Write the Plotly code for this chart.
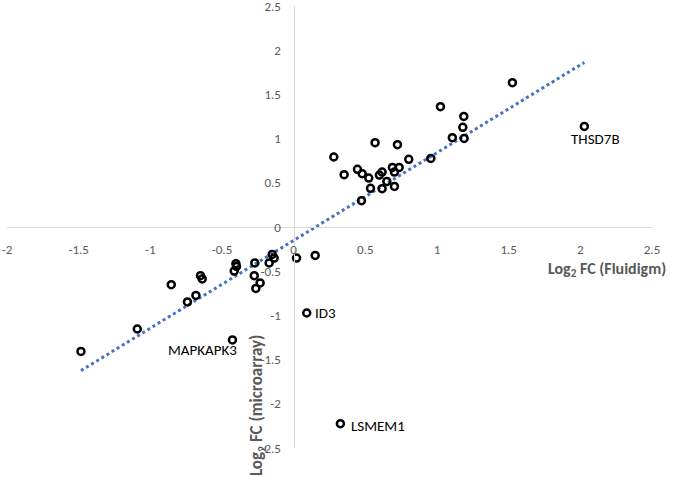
import numpy as np
import plotly.graph_objects as go

# Log2 fold changes: Fluidigm (x) vs microarray (y)
fluidigm = [
    -1.484, -1.091, -0.854, -0.741, -0.682, -0.650, -0.638, -0.427,
    -0.403, -0.399, -0.415, -0.271, -0.275, -0.234, -0.264, -0.171,
    -0.150, -0.136, 0.020, 0.150, 0.091, 0.326,
    0.280, 0.352, 0.445, 0.478, 0.568, 0.524, 0.536, 0.473, 0.598,
    0.617, 0.617, 0.650, 0.689, 0.703, 0.703, 0.724, 0.736, 0.803,
    0.957, 1.024, 1.107, 1.180, 1.187, 1.189, 1.526, 2.028,
]
microarray = [
    -1.407, -1.154, -0.653, -0.848, -0.774, -0.551, -0.588, -1.278,
    -0.415, -0.446, -0.498, -0.407, -0.551, -0.633, -0.695, -0.407,
    -0.310, -0.351, -0.351, -0.321, -0.973, -2.225,
    0.792, 0.592, 0.652, 0.603, 0.954, 0.554, 0.437, 0.298, 0.588,
    0.622, 0.433, 0.516, 0.674, 0.622, 0.459, 0.931, 0.674, 0.765,
    0.776, 1.361, 1.010, 1.127, 1.251, 1.002, 1.632, 1.138,
]

labeled_genes = ["THSD7B", "MAPKAPK3", "ID3", "LSMEM1"]
labeled_x = [2.028, -0.427, 0.091, 0.326]
labeled_y = [1.138, -1.278, -0.973, -2.225]

x_ticks = [-2, -1.5, -1, -0.5, 0, 0.5, 1, 1.5, 2, 2.5]
y_ticks = [-2.5, -2, -1.5, -1, -0.5, 0, 0.5, 1, 1.5, 2, 2.5]

xa = np.array(fluidigm)
ya = np.array(microarray)
slope, intercept = np.polyfit(xa, ya, 1)
trend_x = np.array([xa.min(), xa.max()])
trend_y = slope * trend_x + intercept

FONT = "Carlito, Calibri, Lato, sans-serif"
GRAY = "#595959"

fig = go.Figure()
fig.add_trace(go.Scatter(
    x=trend_x, y=trend_y, mode="lines",
    line=dict(color="#4472C4", width=3, dash="dot"),
    hoverinfo="skip", showlegend=False, cliponaxis=False,
))
fig.add_trace(go.Scatter(
    x=fluidigm, y=microarray, mode="markers",
    marker=dict(symbol="circle-open", size=7, color="black",
                line=dict(color="black", width=2.5)),
    showlegend=False, cliponaxis=False,
))

label_offsets = {"THSD7B": (11, -13, "center"),
                 "MAPKAPK3": (-30, -10, "center"),
                 "ID3": (6, 0, "left"),
                 "LSMEM1": (9, -2, "left")}
for g, gx, gy in zip(labeled_genes, labeled_x, labeled_y):
    dx, dy, anc = label_offsets[g]
    fig.add_annotation(x=gx, y=gy, text=g, showarrow=False,
                       xshift=dx, yshift=dy, xanchor=anc, yanchor="middle",
                       font=dict(family=FONT, size=15, color="black"))

fig.add_annotation(xref="paper", yref="paper", x=1.025, y=0.4034,
                   xanchor="right", yanchor="middle", showarrow=False,
                   text="Log<sub>2</sub> FC (Fluidigm)",
                   font=dict(family=FONT, size=16, color=GRAY, weight="bold"))
fig.add_annotation(xref="paper", yref="paper", x=0.3877, y=0.095,
                   xanchor="center", yanchor="middle", showarrow=False,
                   textangle=-90,
                   text="Log<sub>2</sub> FC (microarray)",
                   font=dict(family=FONT, size=17, color=GRAY, weight="bold"))

axis_common = dict(showgrid=False, zeroline=False, showline=True,
                   linecolor="#d9d9d9", linewidth=1.3, ticks="",
                   tickfont=dict(family=FONT, size=13, color=GRAY),
                   anchor="free", ticklabelstandoff=10, automargin=False,
                   ticklabeloverflow="allow")
fig.update_xaxes(range=[-2, 2.5], tickvals=x_ticks,
                 ticktext=[f"{v:g}" for v in x_ticks],
                 position=0.5, **axis_common)
fig.update_yaxes(range=[-2.5, 2.5], tickvals=y_ticks,
                 ticktext=[f"{v:g}" for v in y_ticks],
                 position=2 / 4.5, **axis_common)

fig.update_layout(width=675, height=477,
                  margin=dict(l=7, r=23, t=6, b=29, autoexpand=False),
                  plot_bgcolor="white", paper_bgcolor="white",
                  font=dict(family=FONT))
fig.write_html("out.html",
               config={"displayModeBar": False},
               post_script="document.body.style.margin='0';"
                           "document.body.style.overflow='hidden';")
